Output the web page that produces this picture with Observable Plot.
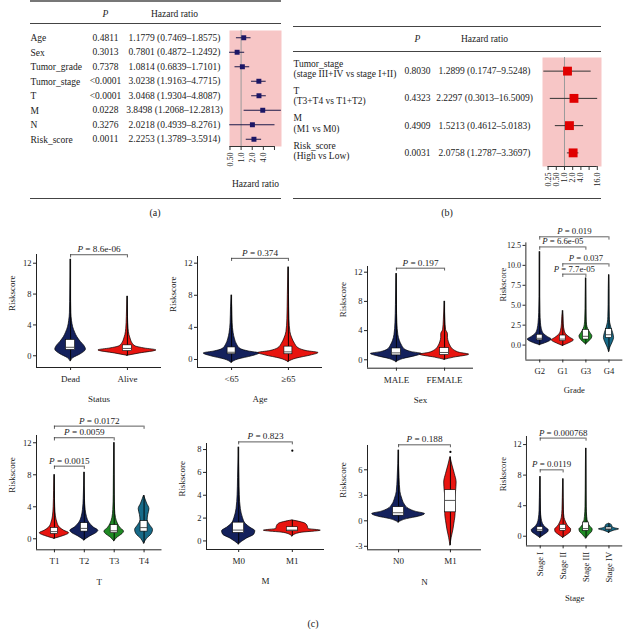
<!DOCTYPE html>
<html><head><meta charset="utf-8">
<script src="https://cdn.jsdelivr.net/npm/d3@7"></script>
<script src="https://cdn.jsdelivr.net/npm/@observablehq/plot@0.6"></script>
<style>
html,body{margin:0;padding:0;background:#fff;}
#root{position:relative;width:630px;height:629px;overflow:hidden;font-family:"Liberation Serif","Times New Roman",serif;color:#222;}
.abs{position:absolute;}
.hr{position:absolute;height:0;border-top:1px solid #444;}
.cap{position:absolute;font-size:10px;transform:translate(-50%,-50%);white-space:nowrap;}
</style></head><body><div id="root"></div>
<script>
// ================= DATA =================
// (a) univariate Cox
const uniVars = ["Age","Sex","Tumor_grade","Tumor_stage","T","M","N","Risk_score"];
const uniP = ["0.4811","0.3013","0.7378","<0.0001","<0.0001","0.0228","0.3276","0.0011"];
const uniHR = [1.1779,0.7801,1.0814,3.0238,3.0468,3.8498,2.0218,2.2253];
const uniLo = [0.7469,0.4872,0.6839,1.9163,1.9304,1.2068,0.4939,1.3789];
const uniHi = [1.8575,1.2492,1.7101,4.7715,4.8087,12.2813,8.2761,3.5914];
const uniTicks = [0.5,1,2,4,8];
// (b) multivariate Cox
const multiVars = ["Tumor_stage\n(stage III+IV vs stage I+II)","T\n(T3+T4 vs T1+T2)","M\n(M1 vs M0)","Risk_score\n(High vs Low)"];
const multiP = ["0.8030","0.4323","0.4909","0.0031"];
const multiHR = [1.2899,2.2297,1.5213,2.0758];
const multiLo = [0.1747,0.3013,0.4612,1.2787];
const multiHi = [9.5248,16.5009,5.0183,3.3697];
const multiTicks = [0.25,0.5,1,2,4,8,16];

// (c) violin profiles: [riskscore value, relative half-width in category units]
const statusGroups = ["Dead","Alive"];
const statusProfiles = [
  [[-0.7,0],[-0.3,0.05],[0.2,0.18],[0.8,0.27],[1.3,0.24],[1.8,0.18],[2.4,0.12],[3,0.08],[3.7,0.045],[4.5,0.025],[5.5,0.012],[7,0.008],[12.5,0]],
  [[0,0],[0.3,0.22],[0.7,0.51],[0.95,0.3],[1.2,0.15],[1.6,0.09],[2.1,0.06],[2.7,0.035],[3.5,0.02],[5,0.01],[7.7,0]]];
const statusBoxes = [[0.75,1.1,2.05],[0.6,0.95,1.35]];
const statusTests = [["Dead","Alive","8.6e-06",13.1]];

const ageGroups = ["<65","\u226565"];
const ageProfiles = [
  [[-0.4,0],[0,0.12],[0.4,0.36],[0.75,0.49],[1.0,0.3],[1.3,0.16],[1.8,0.1],[2.5,0.06],[3.3,0.035],[4.5,0.018],[6.5,0.01],[8,0]],
  [[-0.3,0],[0.1,0.14],[0.5,0.4],[0.8,0.53],[1.05,0.32],[1.4,0.18],[1.9,0.12],[2.6,0.07],[3.4,0.035],[5,0.018],[8,0.01],[11.5,0]]];
const ageBoxes = [[0.65,0.9,1.5],[0.65,0.95,1.6]];
const ageTests = [["<65","\u226565","0.374",12.6]];

const sexGroups = ["MALE","FEMALE"];
const sexProfiles = [
  [[-0.3,0],[0.1,0.14],[0.5,0.4],[0.8,0.53],[1.05,0.32],[1.4,0.18],[1.9,0.12],[2.6,0.07],[3.4,0.04],[5,0.02],[7.5,0.01],[11.8,0]],
  [[0,0],[0.3,0.2],[0.7,0.51],[0.95,0.32],[1.3,0.2],[1.8,0.13],[2.4,0.09],[3.0,0.07],[3.5,0.07],[4.1,0.03],[5.5,0.015],[8,0]]];
const sexBoxes = [[0.6,0.95,1.55],[0.65,1.0,1.6]];
const sexTests = [["MALE","FEMALE","0.197",12.55]];

const gradeGroups = ["G2","G1","G3","G4"];
const gradeProfiles = [
  [[0,0],[0.3,0.3],[0.7,0.52],[1.0,0.36],[1.4,0.18],[2,0.09],[2.8,0.05],[4,0.025],[6,0.012],[9,0.008],[11.7,0]],
  [[-0.1,0],[0.2,0.25],[0.6,0.48],[0.9,0.33],[1.3,0.16],[1.8,0.08],[2.6,0.04],[3.5,0.025],[4.3,0]],
  [[0.1,0],[0.4,0.12],[0.8,0.25],[1.1,0.28],[1.5,0.2],[2,0.1],[2.5,0.05],[3.2,0.03],[4.5,0.018],[6,0.012],[8.4,0]],
  [[-0.85,0],[-0.3,0.06],[0.4,0.17],[0.9,0.22],[1.5,0.18],[2.2,0.1],[2.8,0.05],[3.5,0.03],[5,0.018],[7,0.012],[8.8,0]]];
const gradeBoxes = [[0.6,0.85,1.3],[0.5,0.75,1.2],[0.7,1.1,1.9],[0.9,1.3,2.0]];
const gradeTests = [["G2","G4","0.019",13.58],["G2","G3","6.6e-05",12.31],["G1","G4","0.037",10.19],["G1","G3","7.7e-05",8.9]];

const tGroups = ["T1","T2","T3","T4"];
const tProfiles = [
  [[0,0],[0.3,0.27],[0.7,0.49],[1.0,0.33],[1.4,0.18],[2,0.1],[2.8,0.05],[4,0.025],[6,0.012],[8,0]],
  [[-0.2,0],[0.3,0.2],[0.7,0.4],[1.0,0.47],[1.4,0.32],[2,0.17],[2.7,0.09],[3.6,0.045],[5,0.02],[8.3,0]],
  [[-0.3,0],[0.2,0.13],[0.6,0.28],[0.9,0.33],[1.3,0.22],[1.9,0.12],[2.6,0.06],[3.6,0.03],[5.5,0.015],[8,0.01],[12,0]],
  [[-0.6,0],[0,0.1],[0.6,0.26],[1.1,0.3],[1.7,0.2],[2.3,0.12],[3,0.14],[3.7,0.18],[4.4,0.1],[5,0.04],[5.4,0]]];
const tBoxes = [[0.6,0.9,1.35],[0.9,1.3,1.95],[0.7,1.0,1.7],[0.9,1.4,2.2]];
const tTests = [["T1","T4","0.0172",14.08],["T1","T3","0.0059",12.63],["T1","T2","0.0015",9.08]];

const mGroups = ["M0","M1"];
const mProfiles = [
  [[-0.3,0],[0.2,0.15],[0.55,0.29],[0.85,0.31],[1.15,0.22],[1.5,0.13],[2,0.08],[2.8,0.04],[4,0.02],[5.5,0.012],[8.2,0]],
  [[0.4,0],[0.7,0.15],[0.9,0.53],[1.05,0.3],[1.25,0.29],[1.5,0.25],[1.8,0]]];
const mBoxes = [[0.7,0.95,1.6],[0.85,0.95,1.2]];
const mTests = [["M0","M1","0.823",8.67]];
const mOutliers = [["M1",7.9]];

const nGroups = ["N0","M1"];
const nProfiles = [
  [[-0.2,0],[0.2,0.16],[0.5,0.4],[0.8,0.51],[1.05,0.34],[1.4,0.2],[1.9,0.12],[2.6,0.07],[3.4,0.035],[5,0.018],[8.3,0]],
  [[-2.9,0],[-2,0.025],[-1,0.06],[0,0.085],[0.8,0.1],[1.5,0.1],[2.5,0.095],[3.5,0.11],[4.5,0.12],[5.5,0.085],[6.5,0.04],[7.5,0]]];
const nBoxes = [[0.6,0.95,1.6],[1.0,2.4,3.6]];
const nTests = [["N0","M1","0.188",8.94]];
const nOutliers = [["M1",8.1]];

const stageGroups = ["Stage I","Stage II","Stage III","Stage IV"];
const stageProfiles = [
  [[-0.2,0],[0.2,0.2],[0.6,0.36],[0.8,0.37],[1.1,0.25],[1.6,0.12],[2.3,0.06],[3.3,0.03],[5,0.016],[7.8,0]],
  [[-0.2,0],[0.2,0.2],[0.6,0.34],[0.9,0.35],[1.2,0.25],[1.8,0.13],[2.4,0.06],[3.4,0.03],[5,0.016],[7.5,0]],
  [[-0.3,0],[0.2,0.15],[0.6,0.27],[0.9,0.29],[1.2,0.2],[1.7,0.1],[2.5,0.05],[3.8,0.025],[6,0.015],[9,0.008],[11.5,0]],
  [[0.45,0],[0.7,0.2],[0.9,0.44],[1.05,0.25],[1.25,0.15],[1.45,0.13],[1.65,0]]];
const stageBoxes = [[0.6,0.85,1.2],[0.7,1.0,1.5],[0.7,1.0,1.8],[0.85,0.95,1.15]];
const stageTests = [["Stage I","Stage III","0.000768",12.85],["Stage I","Stage II","0.0119",8.69]];

// ================= STYLE / LAYOUT =================
const FONT = '"Liberation Serif","Times New Roman",serif';
const navy = "#14215c", red = "#e8140f", green = "#1f8a24", teal = "#176a88";
const root = document.getElementById("root");

function place(node, left, top) {
  const d = document.createElement("div");
  d.className = "abs"; d.style.left = left + "px"; d.style.top = top + "px";
  d.appendChild(node); root.appendChild(d);
}
function hline(x1, x2, y, w, c) {
  const d = document.createElement("div");
  d.className = "hr"; d.style.left = x1 + "px"; d.style.width = (x2 - x1) + "px";
  d.style.top = y + "px"; d.style.borderTopWidth = (w || 1) + "px"; if (c) d.style.borderTopColor = c;
  root.appendChild(d);
}
function caption(t, x, y) {
  const d = document.createElement("div"); d.className = "cap";
  d.style.left = x + "px"; d.style.top = y + "px"; d.textContent = t; root.appendChild(d);
}
function italicP(svg) {
  svg.querySelectorAll("text").forEach(t => {
    if (t.children.length === 0 && t.textContent.startsWith("P = ")) {
      const rest = t.textContent.slice(1);
      t.textContent = "";
      const ts = document.createElementNS("http://www.w3.org/2000/svg", "tspan");
      ts.setAttribute("font-style", "italic"); ts.textContent = "P";
      t.appendChild(ts); t.appendChild(document.createTextNode(rest));
    }
  });
}
const fmtHR = d => d < 1 ? d.toFixed(2) : d.toFixed(1);

function forest(vars, pv, hr, lo, hi, ticks, g) {
  const n = vars.length;
  const rows = vars.map((name, i) => ({i, name, p: pv[i], hr: hr[i], lo: lo[i], hi: hi[i],
    label: `${hr[i].toFixed(4)} (${lo[i].toFixed(4)}\u2013${hi[i].toFixed(4)})`}));
  const svg = Plot.plot({
    width: g.width, height: g.height,
    marginLeft: g.mL, marginRight: g.mR, marginTop: g.mT, marginBottom: g.mB,
    x: {type: "log", domain: g.xDomain},
    y: {domain: [n - 0.5, -0.5], axis: null},
    style: {fontFamily: FONT, fontSize: "9.5px", background: "transparent", overflow: "visible", color: "#222"},
    marks: [
      Plot.frame({fill: "#f7c6c6", stroke: "none"}),
      Plot.ruleX([1], {stroke: "#9a9a9a", strokeWidth: 1}),
      Plot.ruleY(rows, {y: "i", x1: "lo", x2: "hi", stroke: g.ciColor, strokeWidth: 1}),
      Plot.dot(rows, {y: "i", x: "hr", symbol: "square", r: g.r, fill: g.markColor}),
      Plot.ruleY([n - 0.5], {x1: ticks[0], x2: ticks[ticks.length - 1], stroke: "#333", strokeWidth: 1}),
      Plot.axisX({ticks, tickFormat: fmtHR, tickRotate: -90, tickSize: 4, tickPadding: 2, label: null, fontSize: 8, stroke: "#333"}),
      Plot.text(rows, {y: "i", text: "name", frameAnchor: "left", dx: g.nameDx, dy: g.nameDy, textAnchor: "start", lineAnchor: "middle", lineHeight: 1.1}),
      Plot.text(rows, {y: "i", text: "p", frameAnchor: "left", dx: g.pDx, textAnchor: "middle", lineAnchor: "middle"}),
      Plot.text(rows, {y: "i", text: "label", frameAnchor: "left", dx: g.hrDx, textAnchor: "middle", lineAnchor: "middle"}),
      Plot.text(["P"], {frameAnchor: "top-left", dx: g.pDx, dy: g.headDy, textAnchor: "middle", lineAnchor: "middle", fontStyle: "italic"}),
      Plot.text(["Hazard ratio"], {frameAnchor: "top-left", dx: g.hrDx, dy: g.headDy, textAnchor: "middle", lineAnchor: "middle"}),
      ...(g.axisLabel ? [Plot.text([g.axisLabel], {frameAnchor: "bottom", dy: 37, lineAnchor: "middle"})] : [])
    ]
  });
  place(svg, g.left, g.top);
}

function violin(d, c) {
  const n = d.groups.length;
  const mL = 36, mR = 8, mT = 36, mB = c.mB || 40;
  const W = c.ar - c.ax + mL + mR, H = c.ab - c.at + mT + mB;
  const xDom = [0.4, n + 0.6];
  const unitPx = (c.ar - c.ax) / (n + 0.2);
  const bw = c.boxPx / 2 / unitPx;
  const pos = g => d.groups.indexOf(g) + 1;
  const shapes = d.profiles.flatMap((prof, g) => prof.map(([v, w]) => ({g, v, l: g + 1 - w, r: g + 1 + w})));
  const spines = d.profiles.map((prof, g) => ({x: g + 1, lo: prof[0][0], hi: prof[prof.length - 1][0]}));
  const boxes = d.boxes.map(([q1, med, q3], g) => ({x1: g + 1 - bw, x2: g + 1 + bw, q1, med, q3}));
  const tip = 0.028 * (c.yDomain[1] - c.yDomain[0]);
  const tests = d.tests.map(([a, b, p, lvl]) => ({a: pos(a), b: pos(b), p, lvl}));
  const svg = Plot.plot({
    width: W, height: H, marginLeft: mL, marginRight: mR, marginTop: mT, marginBottom: mB,
    x: {domain: xDom}, y: {domain: c.yDomain},
    color: {type: "identity"},
    style: {fontFamily: FONT, fontSize: "9px", background: "transparent", overflow: "visible", color: "#222"},
    marks: [
      Plot.areaX(shapes, {y: "v", x1: "l", x2: "r", z: "g", fill: s => c.colors[s.g], stroke: "black", strokeWidth: 0.7, curve: "monotone-y"}),
      Plot.ruleX(spines, {x: "x", y1: "lo", y2: "hi", stroke: "black", strokeWidth: 0.9}),
      Plot.rect(boxes, {x1: "x1", x2: "x2", y1: "q1", y2: "q3", fill: "white", stroke: "black", strokeWidth: 0.6}),
      Plot.ruleY(boxes, {y: "med", x1: "x1", x2: "x2", stroke: "#444", strokeWidth: 0.9}),
      ...(d.outliers ? [Plot.dot(d.outliers, {x: o => pos(o[0]), y: o => o[1], r: 1.1, fill: "black"})] : []),
      Plot.ruleY(tests, {y: "lvl", x1: "a", x2: "b", stroke: "#333", strokeWidth: 0.8}),
      Plot.ruleX(tests, {x: "a", y1: "lvl", y2: t => t.lvl - tip, stroke: "#333", strokeWidth: 0.8}),
      Plot.ruleX(tests, {x: "b", y1: "lvl", y2: t => t.lvl - tip, stroke: "#333", strokeWidth: 0.8}),
      Plot.text(tests, {x: t => (t.a + t.b) / 2, y: "lvl", text: t => "P = " + t.p, dy: -5.5, fontSize: 9.2}),
      Plot.ruleX([xDom[0]], {stroke: "#222", strokeWidth: 1}),
      Plot.ruleY([c.yDomain[0]], {stroke: "#222", strokeWidth: 1}),
      Plot.axisY({ticks: c.yTicks, tickFormat: c.yFmt || (v => String(v)), tickSize: 3, tickPadding: 2, label: null, fontSize: 8.5}),
      Plot.axisX({ticks: d3.range(1, n + 1), tickFormat: i => d.groups[i - 1], tickSize: 3, tickPadding: c.rotate ? 3 : 5,
        tickRotate: c.rotate ? -90 : 0, label: null, fontSize: 9}),
      Plot.text(["Riskscore"], {frameAnchor: "left", rotate: -90, dx: -24, fontSize: 9}),
      Plot.text([d.title], {frameAnchor: "bottom", dy: c.titleDy || 32, lineAnchor: "middle", fontSize: 9})
    ]
  });
  italicP(svg);
  place(svg, c.ax - mL, c.at - mT);
}

// ================= DRAW =================
// (a)
hline(30, 281, 0, 2, "#777");
hline(30, 281, 23);
hline(30, 281, 198);
forest(uniVars, uniP, uniHR, uniLo, uniHi, uniTicks, {
  left: 0, top: 0, width: 291, height: 200, mL: 229, mR: 10, mT: 30, mB: 54,
  xDomain: [0.485, 12.4], r: 2.8, markColor: "#1c1666", ciColor: "#1c1a4a",
  nameDx: -199, nameDy: 0, pDx: -124, hrDx: -55, headDy: -17, axisLabel: "Hazard ratio"});
caption("(a)", 155, 212);

// (b)
hline(293, 601, 26);
hline(293, 601, 51);
hline(293, 601, 198);
forest(multiVars, multiP, multiHR, multiLo, multiHi, multiTicks, {
  left: 290, top: 0, width: 340, height: 200, mL: 252, mR: 29, mT: 57, mB: 34,
  xDomain: [0.156, 22.8], r: 5, markColor: "#e00000", ciColor: "#333",
  nameDx: -249, nameDy: -2.5, pDx: -125, hrDx: -58, headDy: -19});
caption("(b)", 447, 212);

// (c)
violin({groups: statusGroups, profiles: statusProfiles, boxes: statusBoxes, tests: statusTests, title: "Status"},
  {ax: 36, ar: 161, at: 254, ab: 367, yDomain: [-1.52, 13.13], yTicks: [0,4,8,12], boxPx: 9, colors: [navy, red]});
violin({groups: ageGroups, profiles: ageProfiles, boxes: ageBoxes, tests: ageTests, title: "Age"},
  {ax: 197, ar: 322, at: 256, ab: 367, yDomain: [-1.0, 12.83], yTicks: [0,4,8,12], boxPx: 8, colors: [navy, red]});
violin({groups: sexGroups, profiles: sexProfiles, boxes: sexBoxes, tests: sexTests, title: "Sex"},
  {ax: 367, ar: 473, at: 266, ab: 367.7, yDomain: [-1.15, 12.78], yTicks: [0,4,8,12], boxPx: 9, colors: [navy, red]});
violin({groups: gradeGroups, profiles: gradeProfiles, boxes: gradeBoxes, tests: gradeTests, title: "Grade"},
  {ax: 527, ar: 628.5, at: 244, ab: 366.7, yDomain: [-1.88, 12.82], yTicks: [0,2.5,5,7.5,10,12.5], yFmt: v => v.toFixed(1), boxPx: 6, colors: [navy, red, green, teal]});
violin({groups: tGroups, profiles: tProfiles, boxes: tBoxes, tests: tTests, title: "T"},
  {ax: 35.5, ar: 161, at: 435, ab: 549.3, yDomain: [-1.375, 12.91], yTicks: [0,4,8,12], boxPx: 7, colors: [red, navy, green, teal]});
violin({groups: mGroups, profiles: mProfiles, boxes: mBoxes, tests: mTests, outliers: mOutliers, title: "M"},
  {ax: 206, ar: 324, at: 443.3, ab: 549.3, yDomain: [-0.75, 8.53], yTicks: [0,2,4,6,8], boxPx: 11, colors: [navy, red]});
violin({groups: nGroups, profiles: nProfiles, boxes: nBoxes, tests: nTests, outliers: nOutliers, title: "N"},
  {ax: 367, ar: 481, at: 445, ab: 549.3, yDomain: [-3.41, 8.86], yTicks: [-3,0,3,6], boxPx: 11, colors: [navy, red]});
violin({groups: stageGroups, profiles: stageProfiles, boxes: stageBoxes, tests: stageTests, title: "Stage"},
  {ax: 527, ar: 626, at: 436.7, ab: 549.3, yDomain: [-1.27, 13.06], yTicks: [0,4,8,12], boxPx: 6, colors: [navy, red, green, teal], rotate: true, mB: 62, titleDy: 54});
caption("(c)", 313, 623);
</script></body></html>
